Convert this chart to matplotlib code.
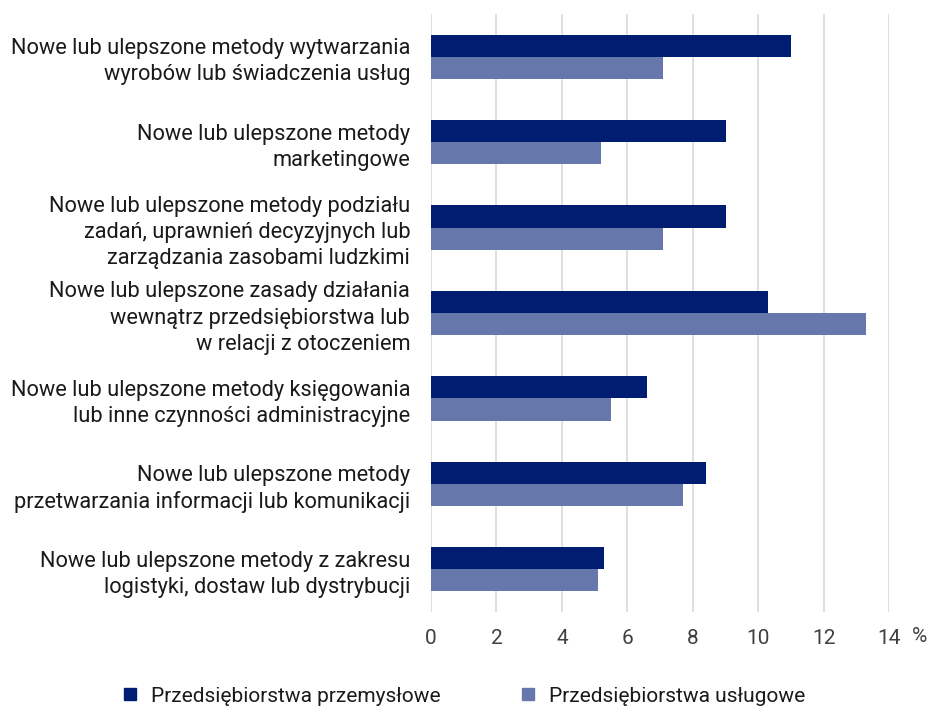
import matplotlib.pyplot as plt
from matplotlib.lines import Line2D
import numpy as np

plt.rcParams['font.family'] = ['Roboto', 'DejaVu Sans']

categories = [
    "Nowe lub ulepszone metody wytwarzania\nwyrobów lub świadczenia usług",
    "Nowe lub ulepszone metody\nmarketingowe",
    "Nowe lub ulepszone metody podziału\nzadań, uprawnień decyzyjnych lub\nzarządzania zasobami ludzkimi",
    "Nowe lub ulepszone zasady działania\nwewnątrz przedsiębiorstwa lub\nw relacji z otoczeniem",
    "Nowe lub ulepszone metody księgowania\nlub inne czynności administracyjne",
    "Nowe lub ulepszone metody\nprzetwarzania informacji lub komunikacji",
    "Nowe lub ulepszone metody z zakresu\nlogistyki, dostaw lub dystrybucji",
]
przemyslowe = [11.0, 9.0, 9.0, 10.3, 6.6, 8.4, 5.3]
uslugowe = [7.1, 5.2, 7.1, 13.3, 5.5, 7.7, 5.1]
series_names = ["Przedsiębiorstwa przemysłowe", "Przedsiębiorstwa usługowe"]
xticks = [0, 2, 4, 6, 8, 10, 12, 14]

navy = '#001D72'
light = '#6677AB'

fig = plt.figure(figsize=(9.34, 7.09), dpi=100)
ax = fig.add_axes([0.4615, 0.137, 0.4905, 0.843])

y = np.arange(len(categories))
h = 0.26
ax.barh(y - h / 2, przemyslowe, height=h, color=navy, zorder=3)
ax.barh(y + h / 2, uslugowe, height=h, color=light, zorder=3)

ax.set_ylim(len(categories) - 0.5, -0.5)
ax.set_xlim(0, 14)
ax.set_xticks(xticks)
ax.set_xticklabels([str(t) for t in xticks], fontsize=15, color='#404040')
ax.set_yticks(y)
ax.set_yticklabels(categories, fontsize=15.7, color='#1a1a1a', linespacing=1.32)
ax.tick_params(axis='x', length=0, pad=12)
ax.tick_params(axis='y', length=0, pad=15)

ax.grid(axis='x', color='#d9d9d9', linewidth=1.2, zorder=0)
for s in ax.spines.values():
    s.set_visible(False)

fig.text(912 / 934, 1 - 637 / 709, '%', fontsize=15, color='#404040',
         ha='left', va='center')

handles = [Line2D([], [], marker='s', linestyle='', color=navy, markersize=8.5),
           Line2D([], [], marker='s', linestyle='', color=light, markersize=8.5)]
fig.legend(handles, series_names, loc='center', bbox_to_anchor=(457 / 934, 1 - 696 / 709),
           ncol=2, frameon=False, handletextpad=0.0, columnspacing=3.2,
           labelcolor='#1a1a1a', fontsize=15)

fig.savefig('out.png', dpi=100)
